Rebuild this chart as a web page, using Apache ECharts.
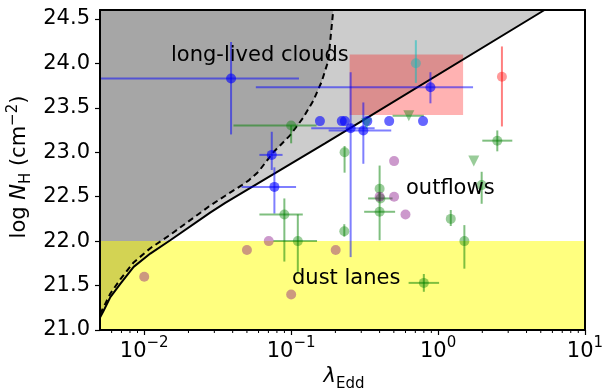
<!DOCTYPE html>
<html>
<head>
<meta charset="utf-8">
<script src="https://cdn.jsdelivr.net/npm/echarts@6/dist/echarts.min.js"></script>
<style>
  html, body { margin: 0; padding: 0; background: #fff; }
  #chart { width: 604px; height: 391px; }
</style>
</head>
<body>
<div id="chart"></div>
<script>
// axis ranges + ticks
var lamMin = 0.005, lamMax = 10;
var nhMin = 21.0, nhMax = 24.6;
var xMajor = [0.01, 0.1, 1, 10];
var xMinor = [0.006, 0.007, 0.008, 0.009, 0.02, 0.03, 0.04, 0.05, 0.06, 0.07, 0.08, 0.09,
              0.2, 0.3, 0.4, 0.5, 0.6, 0.7, 0.8, 0.9, 2, 3, 4, 5, 6, 7, 8, 9];
var yTicks = [21.0, 21.5, 22.0, 22.5, 23.0, 23.5, 24.0, 24.5];

// solid boundary line
var solidLam = [0.005, 0.0053, 0.00588, 0.00687, 0.00847, 0.0110, 0.01504, 0.0281, 0.0356, 0.17, 0.238, 5.3];
var solidNH  = [21.14, 21.22, 21.37, 21.52, 21.71, 21.86, 22.01, 22.32, 22.43, 23.10, 23.245, 24.6];

// dashed boundary line
var dashedLam = [0.005, 0.0053, 0.00588, 0.00687, 0.00847, 0.0110, 0.0150, 0.0281, 0.0356, 0.0462, 0.0512,
                 0.0598, 0.0757, 0.0983, 0.121, 0.1415, 0.161, 0.179, 0.1935];
var dashedNH  = [21.18, 21.26, 21.41, 21.57, 21.76, 21.92, 22.07, 22.40, 22.51, 22.63, 22.68,
                 22.78, 23.0, 23.19, 23.39, 23.58, 23.79, 24.03, 24.6];

// red box and dust-lane band
var boxLam = [0.25, 1.48];
var boxNH = [23.42, 24.10];
var dustNH = [21.0, 22.0];

// points: [lam, nh, lamLo, lamHi, nhLo, nhHi]
var blueErr = [
  [0.039, 23.83, 0.004, 0.113, 23.20, 24.24],
  [0.887, 23.73, 0.0575, 1.73, 23.55, 23.90],
  [0.0738, 22.97, 0.0608, 0.0874, 22.80, 23.23],
  [0.0769, 22.61, 0.046, 0.108, 22.31, 22.83],
  [0.254, 23.27, 0.137, 0.37, 21.82, 23.90],
  [0.31, 23.245, 0.18, 0.48, 22.87, 23.56]
];
var blueDots = [[0.157, 23.35], [0.221, 23.35], [0.232, 23.35], [0.33, 23.35], [0.465, 23.35], [0.79, 23.35]];

var greenErr = [
  [0.1, 23.30, 0.0405, 0.149, 23.10, 23.30],
  [0.231, 23.0, null, null, 22.77, 23.07],
  [0.0899, 22.30, 0.0608, 0.12, 21.77, 22.48],
  [0.111, 22.0, 0.0757, 0.150, 21.64, 22.30],
  [0.230, 22.11, null, null, 22.05, 22.19],
  [0.40, 22.59, null, null, 22.45, 22.85],
  [0.405, 22.48, 0.334, 0.49, null, null],
  [0.40, 22.33, 0.314, 0.51, 22.01, 22.55],
  [1.98, 22.63, null, null, 22.42, 22.78],
  [1.22, 22.25, null, null, 22.17, 22.35],
  [1.51, 22.0, null, null, 21.69, 22.18],
  [0.80, 21.53, 0.63, 1.016, 21.43, 21.63],
  [2.53, 23.13, 2.0, 3.2, 23.01, 23.245]
];
var greenTri = [
  [1.75, 22.90, null, null, null, null],
  [0.632, 23.41, 0.49, 0.80, null, null]
];
var purpleDots = [[0.502, 22.90], [0.40, 22.50], [0.502, 22.50], [0.60, 22.30], [0.0704, 22.0],
                  [0.050, 21.90], [0.01, 21.60], [0.100, 21.40], [0.201, 21.90]];
var redErr = [[2.72, 23.85, null, null, 23.29, 24.19]];
var cyanErr = [[0.706, 24.0, null, null, 23.78, 24.26]];
var cyanTri = [[0.326, 23.32]];

var FONT = 'DejaVu Sans';
var chart = echarts.init(document.getElementById('chart'));

function xy(p) { return [p[0], p[1]]; }

// error bars drawn through the axes' own scales
function errSeries(pts, color, z) {
  return {
    type: 'custom', z: z, clip: true, silent: true,
    data: pts.map(xy),
    encode: { x: 0, y: 1 },
    renderItem: function (params, api) {
      var p = pts[params.dataIndex];
      var kids = [];
      if (p[2] != null) {
        var a = api.coord([p[2], p[1]]), b = api.coord([p[3], p[1]]);
        kids.push({ type: 'line', shape: { x1: a[0], y1: a[1], x2: b[0], y2: b[1] }, style: { stroke: color, lineWidth: 2 } });
      }
      if (p[4] != null) {
        var c = api.coord([p[0], p[4]]), d = api.coord([p[0], p[5]]);
        kids.push({ type: 'line', shape: { x1: c[0], y1: c[1], x2: d[0], y2: d[1] }, style: { stroke: color, lineWidth: 2 } });
      }
      return { type: 'group', children: kids };
    }
  };
}

function dotSeries(pts, color, symbol, z) {
  return {
    type: 'scatter', z: z, silent: true,
    symbol: symbol || 'circle',
    symbolSize: symbol ? 11 : 10,
    symbolRotate: symbol ? 180 : 0,
    data: pts.map(xy),
    itemStyle: { color: color }
  };
}

function poly(api, lams, nhs) {
  return lams.map(function (l, i) { return api.coord([l, nhs[i]]); });
}

var regions = {
  type: 'custom', z: 1, clip: true, silent: true,
  data: [[lamMin, nhMin]],
  encode: { x: 0, y: 1 },
  renderItem: function (params, api) {
    var light = poly(api, solidLam, solidNH);
    light.push(api.coord([lamMin, nhMax]));
    var dark = poly(api, dashedLam, dashedNH);
    dark.push(api.coord([lamMin, nhMax]));
    var b0 = api.coord([boxLam[0], boxNH[1]]), b1 = api.coord([boxLam[1], boxNH[0]]);
    var y0 = api.coord([lamMin, dustNH[1]]), y1 = api.coord([lamMax, dustNH[0]]);
    return {
      type: 'group',
      children: [
        { type: 'polygon', shape: { points: light }, style: { fill: '#cccccc' } },
        { type: 'polygon', shape: { points: dark }, style: { fill: '#a6a6a6' } },
        { type: 'rect', shape: { x: b0[0], y: b0[1], width: b1[0] - b0[0], height: b1[1] - b0[1] }, style: { fill: 'rgba(255,0,0,0.3)' } },
        { type: 'rect', shape: { x: y0[0], y: y0[1], width: y1[0] - y0[0], height: y1[1] - y0[1] }, style: { fill: 'rgba(255,255,0,0.5)' } }
      ]
    };
  }
};

var minorTicks = {
  type: 'custom', z: 10, clip: false, silent: true,
  data: xMinor.map(function (v) { return [v, nhMin]; }),
  encode: { x: 0, y: 1 },
  renderItem: function (params, api) {
    var c = api.coord([api.value(0), nhMin]);
    return { type: 'line', shape: { x1: c[0], y1: c[1], x2: c[0], y2: c[1] + 3 }, style: { stroke: '#000', lineWidth: 1 } };
  }
};

function supLabel(v) {
  var e = Math.round(Math.log10(v));
  return '{b|10}{s|' + (e < 0 ? '\u2212' + (-e) : e) + '}';
}

var option = {
  animation: false,
  backgroundColor: '#fff',
  grid: { left: 100, right: 19, top: 10, bottom: 61, outerBoundsMode: 'none' },
  xAxis: [{
    type: 'log', logBase: 10, min: lamMin, max: lamMax, position: 'bottom', z: 10,
    axisLine: { show: true, onZero: false, lineStyle: { color: '#000', width: 2 } },
    axisTick: { show: true, customValues: xMajor, length: 5, lineStyle: { color: '#000', width: 1.2 } },
    axisLabel: {
      customValues: xMajor, margin: 6, color: '#000', formatter: supLabel,
      rich: {
        b: { fontFamily: FONT, fontSize: 21, color: '#000', lineHeight: 26, verticalAlign: 'bottom' },
        s: { fontFamily: FONT, fontSize: 15, color: '#000', lineHeight: 15, verticalAlign: 'top' }
      }
    },
    splitLine: { show: false }
  }, {
    type: 'log', logBase: 10, min: lamMin, max: lamMax, position: 'top', z: 10,
    axisLine: { show: true, onZero: false, lineStyle: { color: '#000', width: 2 } },
    axisTick: { show: false }, axisLabel: { show: false }, splitLine: { show: false }
  }],
  yAxis: [{
    type: 'value', min: nhMin, max: nhMax, position: 'left', z: 10,
    axisLine: { show: true, onZero: false, lineStyle: { color: '#000', width: 2 } },
    axisTick: { show: true, customValues: yTicks, length: 5, lineStyle: { color: '#000', width: 1.2 } },
    axisLabel: {
      customValues: yTicks, margin: 10, color: '#000', fontFamily: FONT, fontSize: 21,
      formatter: function (v) { return v.toFixed(1); }
    },
    splitLine: { show: false }
  }, {
    type: 'value', min: nhMin, max: nhMax, position: 'right', z: 10,
    axisLine: { show: true, onZero: false, lineStyle: { color: '#000', width: 2 } },
    axisTick: { show: false }, axisLabel: { show: false }, splitLine: { show: false }
  }],
  graphic: [
    { type: 'text', x: 171, y: 56, z: 20, style: { text: 'long-lived clouds', font: '21px "DejaVu Sans"', fill: '#000', verticalAlign: 'middle' } },
    { type: 'text', x: 406, y: 189, z: 20, style: { text: 'outflows', font: '21px "DejaVu Sans"', fill: '#000', verticalAlign: 'middle' } },
    { type: 'text', x: 292, y: 279, z: 20, style: { text: 'dust lanes', font: '21px "DejaVu Sans"', fill: '#000', verticalAlign: 'middle' } },
    {
      type: 'text', x: 344, y: 379, z: 20,
      style: {
        text: '{l|\u03bb}{sub|Edd}', align: 'center', verticalAlign: 'middle',
        rich: {
          l: { fontFamily: FONT, fontSize: 21, fontStyle: 'italic', lineHeight: 26, verticalAlign: 'top', fill: '#000' },
          sub: { fontFamily: FONT, fontSize: 15, lineHeight: 15, verticalAlign: 'bottom', fill: '#000' }
        }
      }
    },
    {
      type: 'text', x: 20, y: 167, z: 20, rotation: Math.PI / 2,
      style: {
        text: '{n|log }{i|N}{sub|H}{n| (cm}{sup|\u22122}{n|)}', align: 'center', verticalAlign: 'middle',
        rich: {
          n: { fontFamily: FONT, fontSize: 21, lineHeight: 28, fill: '#000' },
          i: { fontFamily: FONT, fontSize: 21, fontStyle: 'italic', lineHeight: 28, fill: '#000' },
          sub: { fontFamily: FONT, fontSize: 15, lineHeight: 15, verticalAlign: 'bottom', fill: '#000' },
          sup: { fontFamily: FONT, fontSize: 15, lineHeight: 15, verticalAlign: 'top', fill: '#000' }
        }
      }
    }
  ],
  series: [
    regions,
    {
      type: 'line', z: 4, silent: true, showSymbol: false, clip: true,
      data: solidLam.map(function (l, i) { return [l, solidNH[i]]; }),
      lineStyle: { color: '#000', width: 2 }
    },
    {
      type: 'line', z: 4, silent: true, showSymbol: false, clip: true,
      data: dashedLam.map(function (l, i) { return [l, dashedNH[i]]; }),
      lineStyle: { color: '#000', width: 2, type: [6, 4] }
    },
    errSeries(blueErr, 'rgba(0,0,255,0.5)', 5),
    errSeries(greenErr, 'rgba(0,128,0,0.5)', 5),
    errSeries(greenTri, 'rgba(0,128,0,0.5)', 5),
    errSeries(redErr, 'rgba(255,0,0,0.5)', 5),
    errSeries(cyanErr, 'rgba(0,191,191,0.5)', 5),
    dotSeries(blueErr, 'rgba(0,0,255,0.75)', null, 6),
    dotSeries(blueDots, 'rgba(0,0,255,0.75)', null, 6),
    dotSeries(greenErr, 'rgba(0,128,0,0.5)', null, 6),
    dotSeries(greenTri, 'rgba(0,128,0,0.5)', 'triangle', 6),
    dotSeries(purpleDots, 'rgba(128,0,128,0.5)', null, 6),
    dotSeries(redErr, 'rgba(255,0,0,0.5)', null, 6),
    dotSeries(cyanErr, 'rgba(0,191,191,0.5)', null, 6),
    dotSeries(cyanTri, 'rgba(0,128,128,0.6)', 'triangle', 6),
    minorTicks
  ]
};

chart.setOption(option);
</script>
</body>
</html>
